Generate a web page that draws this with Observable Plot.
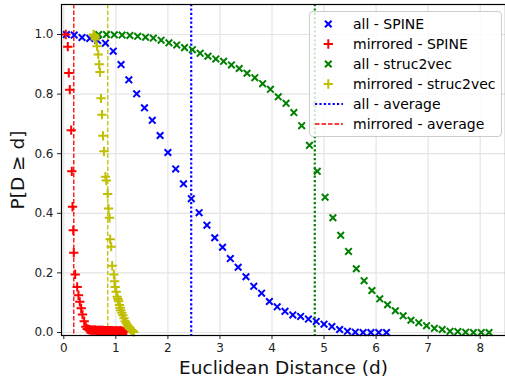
<!DOCTYPE html>
<html>
<head>
<meta charset="utf-8">
<script src="https://cdn.jsdelivr.net/npm/d3@7"></script>
<script src="https://cdn.jsdelivr.net/npm/@observablehq/plot@0.6"></script>
<style>
  body { margin: 0; background: white; }
  #fig { position: relative; width: 505px; height: 384px; font-family: "DejaVu Sans", sans-serif; }
  #legend { position: absolute; left: 309px; top: 11px; width: 193px; height: 126px;
            border: 1px solid #cccccc; border-radius: 4px; background: rgba(255,255,255,0.8);
            box-sizing: border-box; padding-top: 2px; }
  .row { display: flex; align-items: center; height: 20px; font-size: 14px; color: #000; white-space: nowrap; font-family: "DejaVu Sans", sans-serif; }
  .row svg { flex: none; }
</style>
</head>
<body>
<div id="fig"></div>
<script>
// ---- data ----
const xTicks = [0, 1, 2, 3, 4, 5, 6, 7, 8];
const yTicks = [0.0, 0.2, 0.4, 0.6, 0.8, 1.0];
const xLabel = "Euclidean Distance (d)";
const yLabel = "P[D ≥ d]";

const seriesNames = ["all - SPINE", "mirrored - SPINE", "all - struc2vec", "mirrored - struc2vec"];
const avgNames = ["all - average", "mirrored - average"];

const allSpineX = [0.05,0.2,0.35,0.5,0.65,0.8,0.95,1.1,1.25,1.4,1.55,1.7,1.85,2.0,2.15,2.3,2.45,2.6,2.75,2.9,3.05,3.2,3.35,3.5,3.65,3.8,3.95,4.1,4.25,4.4,4.55,4.7,4.85,5.0,5.15,5.3,5.45,5.6,5.75,5.9,6.05,6.2];
const allSpineY = [1.0,0.998,0.99,0.987,0.98,0.971,0.944,0.899,0.848,0.801,0.754,0.712,0.661,0.604,0.549,0.499,0.449,0.402,0.36,0.318,0.286,0.248,0.219,0.187,0.155,0.132,0.104,0.086,0.071,0.059,0.054,0.045,0.037,0.028,0.02,0.01,0.004,0.001,0,0,0,0];

const mirSpineX = [0.038,0.077,0.096,0.115,0.142,0.154,0.167,0.181,0.192,0.219,0.257,0.282,0.307,0.334,0.359,0.392,0.423,
  0.45,0.475,0.5,0.525,0.55,0.575,0.6,0.625,0.65,0.675,0.7,0.725,0.75,0.775,0.8,0.825,0.85,0.875,0.9,0.925,0.95,0.975,1.0,1.025,1.05,1.075,1.1,1.125,1.15,1.175,1.2];
const mirSpineY = [1.0,0.959,0.871,0.815,0.679,0.541,0.422,0.343,0.268,0.195,0.153,0.125,0.103,0.081,0.06,0.038,0.019,
  0.012,0.01,0.009,0.008,0.008,0.008,0.008,0.007,0.007,0.007,0.007,0.007,0.007,0.006,0.006,0.006,0.006,0.006,0.006,0.006,0.005,0.005,0.005,0.005,0.005,0.005,0.005,0.004,0.004,0.004,0.004];

const allS2vX = [0.67,0.82,0.97,1.12,1.27,1.42,1.57,1.72,1.87,2.02,2.17,2.32,2.47,2.62,2.77,2.92,3.07,3.22,3.37,3.52,3.67,3.82,3.97,4.12,4.27,4.42,4.57,4.72,4.87,5.02,5.17,5.32,5.47,5.62,5.77,5.92,6.07,6.22,6.37,6.52,6.67,6.82,6.97,7.12,7.27,7.42,7.57,7.72,7.87,8.02,8.17];
const allS2vY = [1.0,1.0,0.999,0.998,0.997,0.994,0.991,0.988,0.981,0.972,0.965,0.956,0.949,0.937,0.927,0.918,0.91,0.898,0.886,0.87,0.855,0.835,0.816,0.791,0.769,0.738,0.694,0.628,0.541,0.454,0.385,0.326,0.272,0.214,0.174,0.141,0.113,0.093,0.073,0.056,0.041,0.033,0.023,0.014,0.01,0.004,0.003,0.001,0,0,0];

const mirS2vX = [0.571,0.58,0.59,0.6,0.609,0.638,0.661,0.68,0.695,0.715,0.734,0.753,0.772,0.801,0.817,0.843,0.859,0.878,0.891,0.911,0.93,0.961,0.975,0.988,1.007,1.026,1.04,1.051,1.07,1.083,1.095,1.115,1.134,1.157,1.18,1.2,1.224,1.243,1.262,1.285,1.306,1.325,1.345];
const mirS2vY = [1.0,0.998,0.995,0.99,0.983,0.961,0.933,0.9,0.874,0.786,0.731,0.66,0.608,0.523,0.51,0.465,0.416,0.385,0.313,0.288,0.224,0.195,0.172,0.153,0.137,0.12,0.112,0.105,0.092,0.083,0.075,0.066,0.058,0.048,0.038,0.031,0.024,0.018,0.013,0.01,0.008,0.005,0.002];

const avgAll = [2.448, 4.822];      // SPINE, struc2vec
const avgMirrored = [0.192, 0.845]; // SPINE, struc2vec

// ---- styles ----
const colors = ["#0000ff", "#ff0000", "#008000", "#bfbf00"];
const symbols = ["times", "plus", "times", "plus"];
const R = 3.1;
const SW = 2;

const toRows = (xs, ys) => xs.map((x, i) => ({x, y: ys[i]}));
const sets = [toRows(allSpineX, allSpineY), toRows(mirSpineX, mirSpineY), toRows(allS2vX, allS2vY), toRows(mirS2vX, mirS2vY)];

const dotted = {strokeWidth: 2.2, strokeDasharray: "2.2,2.2"};
const dashed = {strokeWidth: 1.3, strokeDasharray: "4.5,2"};

const chart = Plot.plot({
  width: 505, height: 384,
  marginLeft: 61, marginRight: 0, marginTop: 4, marginBottom: 49,
  style: {fontFamily: "DejaVu Sans", fontSize: "12px", color: "#000", background: "white"},
  x: {domain: [-0.044, 8.486]},
  y: {domain: [-0.0101, 1.1007]},
  marks: [
    Plot.gridX(xTicks, {stroke: "#e4e4e4", strokeOpacity: 1, strokeWidth: 1.2}),
    Plot.gridY(yTicks, {stroke: "#e4e4e4", strokeOpacity: 1, strokeWidth: 1.2}),
    Plot.ruleX([avgAll[0]], {stroke: colors[0], ...dotted}),
    Plot.ruleX([avgMirrored[0]], {stroke: colors[1], ...dashed}),
    Plot.ruleX([avgAll[1]], {stroke: colors[2], ...dotted}),
    Plot.ruleX([avgMirrored[1]], {stroke: colors[3], ...dashed}),
    ...sets.map((data, i) => Plot.dot(data, {x: "x", y: "y", symbol: () => symbols[i], r: R, fill: "none", stroke: colors[i], strokeWidth: SW})),
    Plot.frame({stroke: "black", strokeWidth: 1.2}),
    Plot.axisX(xTicks, {tickSize: 4, tickPadding: 4, fontSize: 12, label: null, tickFormat: d => String(d), color: "#222"}),
    Plot.axisY(yTicks, {tickSize: 4, tickPadding: 4, fontSize: 12, label: null, tickFormat: d3.format(".1f"), color: "#222"}),
    Plot.text([xLabel], {frameAnchor: "bottom", lineAnchor: "middle", dy: 33, fontSize: 18.5, fill: "#111"}),
    Plot.text([yLabel], {frameAnchor: "left", rotate: -90, textAnchor: "middle", lineAnchor: "middle", dx: -43.5, fontSize: 18.5, fill: "#111"})
  ]
});

const fig = document.getElementById("fig");
fig.appendChild(chart);

// ---- legend ----
const legend = document.createElement("div");
legend.id = "legend";
const ns = "http://www.w3.org/2000/svg";
function row(name, draw) {
  const r = document.createElement("div");
  r.className = "row";
  const s = document.createElementNS(ns, "svg");
  s.setAttribute("width", 43); s.setAttribute("height", 20);
  draw(s);
  r.appendChild(s);
  const t = document.createElement("span");
  t.textContent = name;
  r.appendChild(t);
  legend.appendChild(r);
}
const symMap = {times: d3.symbolTimes, plus: d3.symbolPlus};
seriesNames.forEach((name, i) => row(name, s => {
  const p = document.createElementNS(ns, "path");
  p.setAttribute("d", d3.symbol(symMap[symbols[i]], Math.PI * R * R)());
  p.setAttribute("transform", "translate(18.3,10)");
  p.setAttribute("fill", "none");
  p.setAttribute("stroke", colors[i]);
  p.setAttribute("stroke-width", SW);
  s.appendChild(p);
}));
[[colors[0], dotted], [colors[1], dashed]].forEach(([c, st], i) => row(avgNames[i], s => {
  const l = document.createElementNS(ns, "line");
  l.setAttribute("x1", 5); l.setAttribute("x2", 33); l.setAttribute("y1", 10); l.setAttribute("y2", 10);
  l.setAttribute("stroke", c);
  l.setAttribute("stroke-width", st.strokeWidth);
  l.setAttribute("stroke-dasharray", st.strokeDasharray);
  s.appendChild(l);
}));
fig.appendChild(legend);
</script>
</body>
</html>
